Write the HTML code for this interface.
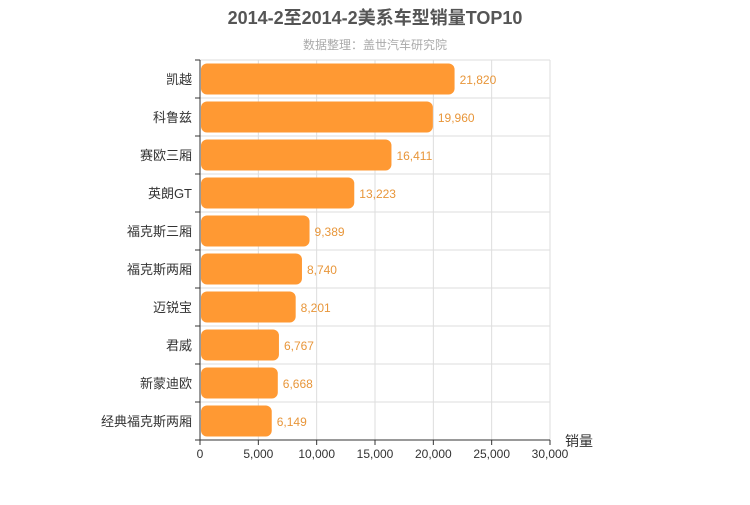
<!DOCTYPE html>
<html><head><meta charset="utf-8"><style>
body{margin:0;background:#fff;width:750px;height:500px;overflow:hidden}
text{font-family:"Liberation Sans","Noto Sans CJK SC",sans-serif}
</style></head><body>
<svg id="chart" width="750" height="500" xmlns="http://www.w3.org/2000/svg">
<text x="375" y="24" text-anchor="middle" font-size="18" font-weight="bold" fill="#555">2014-2至2014-2美系车型销量TOP10</text>
<text x="375" y="49" text-anchor="middle" font-size="12" fill="#aaa">数据整理：盖世汽车研究院</text>
<g id="grid"></g><g id="bars"></g><g id="axes"></g>
</svg>
<script>
const categories=["凯越","科鲁兹","赛欧三厢","英朗GT","福克斯三厢","福克斯两厢","迈锐宝","君威","新蒙迪欧","经典福克斯两厢"];
const values=[21820,19960,16411,13223,9389,8740,8201,6767,6668,6149];
const xTicks=[0,5000,10000,15000,20000,25000,30000];
const X0=200,X1=550,Y0=60,Y1=440,xMax=30000;
const ns="http://www.w3.org/2000/svg";
const xs=v=>X0+(v/xMax)*(X1-X0);
const band=(Y1-Y0)/categories.length;
const ys=i=>Y0+i*band;
function mk(tag,attrs,parent,txt){const e=document.createElementNS(ns,tag);for(const k in attrs)e.setAttribute(k,attrs[k]);if(txt!==undefined)e.textContent=txt;document.getElementById(parent).appendChild(e);return e;}
const fmt=v=>v.toLocaleString('en-US');
xTicks.forEach(t=>{
 const l=mk('line',{x1:xs(t),x2:xs(t),y1:Y0,y2:Y1,stroke:'#ddd'},'grid');
 
 
 const tk=mk('line',{x1:xs(t),x2:xs(t),y1:Y1,y2:Y1+5,stroke:'#333'},'axes');
 
 
 const tx=mk('text',{x:xs(t),y:Y1+18,'text-anchor':'middle','font-size':12,fill:'#333'},'axes',fmt(t));
 
 
});
for(let i=0;i<=categories.length;i++){
 const l=mk('line',{x1:X0,x2:X1,y1:ys(i),y2:ys(i),stroke:'#ddd'},'grid');
 
 
 const tk=mk('line',{x1:X0-5,x2:X0,y1:ys(i),y2:ys(i),stroke:'#333'},'axes');
 
 
}
categories.forEach((c,i)=>{
 const v=values[i];
 const r=mk('rect',{x:X0+1,y:ys(i)+3.5,width:xs(v)-X0-1,height:band-7,rx:6,fill:'#ff9933'},'bars');
 
 
 const lb=mk('text',{x:xs(v)+5,y:ys(i)+band/2+5,'font-size':12,fill:'#e8963a'},'bars',fmt(v));
 
 
 const cl=mk('text',{x:X0-8,y:ys(i)+band/2+5,'text-anchor':'end','font-size':13,fill:'#333'},'axes',c);
 
 
});
const ax=mk('line',{x1:X0,x2:X0,y1:Y0,y2:Y1,stroke:'#333'},'axes');


const bx=mk('line',{x1:X0,x2:X1,y1:Y1,y2:Y1,stroke:'#333'},'axes');


const an=mk('text',{x:565,y:446,'font-size':14,fill:'#333'},'axes','销量');


</script>
</body></html>
